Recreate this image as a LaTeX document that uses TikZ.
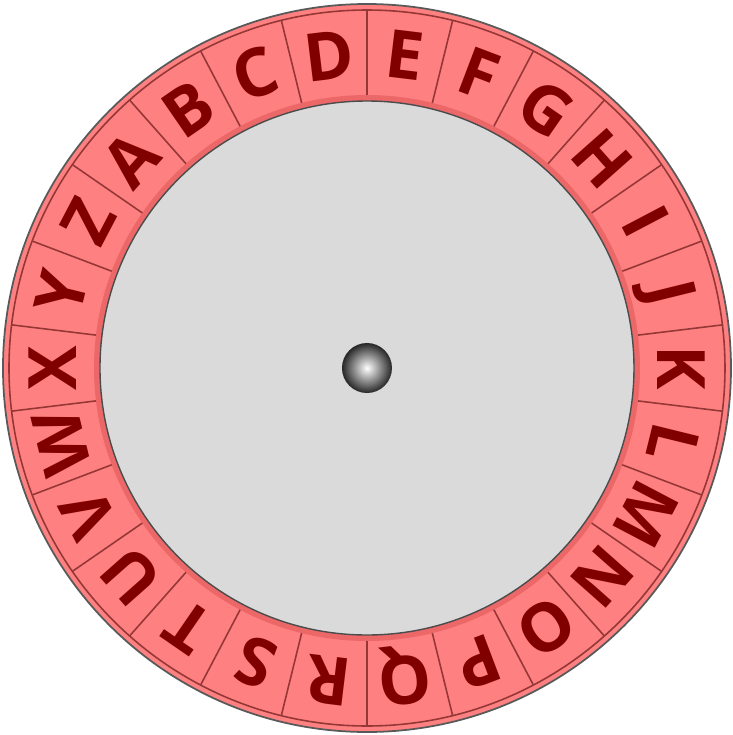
\documentclass[tikz,border=0pt]{standalone}
\usepackage{fontspec}
\setsansfont{Open Sans}
\definecolor{ringpink}{RGB}{255,128,128}
\definecolor{bandpink}{RGB}{236,104,104}
\definecolor{diskgray}{RGB}{218,218,218}
\definecolor{letterred}{RGB}{128,0,0}
\definecolor{cellline}{RGB}{150,55,55}

\begin{document}
\begin{tikzpicture}[>=stealth,
    letter/.style={text=letterred, font=\sffamily\bfseries\fontsize{19}{19}\selectfont,
      inner sep=0pt, text height=0.48cm, text depth=0pt, anchor=center},
    celledge/.style={draw=cellline, line width=0.45pt}]
  \useasboundingbox (-3.67,-3.67) rectangle (3.65,3.68);

  % outer ring and inner disk
  \filldraw[fill=ringpink, draw=gray!70!black, line width=0.5pt] (0,0) circle (3.64);
  \draw[celledge] (0,0) circle (3.58);
  \fill[bandpink] (0,0) circle (2.73);
  \filldraw[fill=diskgray, draw=gray!60!black, line width=0.4pt] (0,0) circle (2.67);

  % cell dividers
  \foreach \i in {0,...,25}
    \draw[celledge] (90+\i*13.846:2.73) -- (90+\i*13.846:3.58);

  % letters
  \foreach \ch [count=\i from 0] in {A,...,Z}
    \node[letter, rotate=48.46-\i*13.846] (\ch) at (138.46-\i*13.846:3.15) {\ch};

  % hub
  \shade[inner color=white, outer color=black!85] (0,0) circle (0.25);
  \coordinate (hub) at (0,0);
\end{tikzpicture}
\end{document}
